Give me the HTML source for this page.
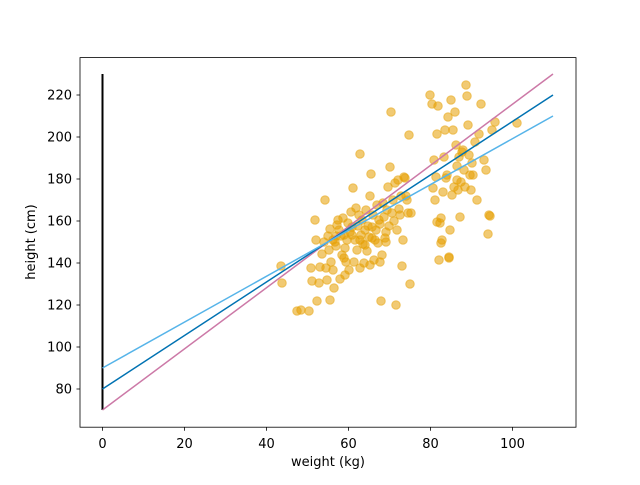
<!DOCTYPE html>
<html><head><style>
body{margin:0;background:#fff}
text{font-family:"DejaVu Sans","Liberation Sans",sans-serif;font-size:13px;fill:#000}
</style></head><body>
<svg width="640" height="480" viewBox="0 0 640 480" xmlns="http://www.w3.org/2000/svg">
<rect width="640" height="480" fill="#fff"/>
<g fill="#E69F00" fill-opacity="0.55" stroke="#E69F00" stroke-opacity="0.5" stroke-width="1">
<circle cx="281" cy="266" r="4.3"/><circle cx="282" cy="283" r="4.3"/><circle cx="297" cy="311" r="4.3"/><circle cx="301" cy="310" r="4.3"/><circle cx="309" cy="311" r="4.3"/><circle cx="311" cy="268" r="4.3"/><circle cx="312" cy="281" r="4.3"/><circle cx="315" cy="220" r="4.3"/><circle cx="316" cy="240" r="4.3"/><circle cx="317" cy="301" r="4.3"/><circle cx="319" cy="283" r="4.3"/><circle cx="320" cy="267" r="4.3"/><circle cx="322" cy="254" r="4.3"/><circle cx="324" cy="242" r="4.3"/><circle cx="325" cy="200" r="4.3"/><circle cx="326" cy="268" r="4.3"/><circle cx="327" cy="280" r="4.3"/><circle cx="328" cy="236" r="4.3"/><circle cx="329" cy="250" r="4.3"/><circle cx="330" cy="229" r="4.3"/><circle cx="331" cy="262" r="4.3"/><circle cx="333" cy="240" r="4.3"/><circle cx="333" cy="270" r="4.3"/><circle cx="334" cy="288" r="4.3"/><circle cx="335" cy="242" r="4.3"/><circle cx="336" cy="246" r="4.3"/><circle cx="337" cy="225" r="4.3"/><circle cx="338" cy="220" r="4.3"/><circle cx="339" cy="230" r="4.3"/><circle cx="340" cy="279" r="4.3"/><circle cx="341" cy="236" r="4.3"/><circle cx="342" cy="255" r="4.3"/><circle cx="343" cy="218" r="4.3"/><circle cx="344" cy="235" r="4.3"/><circle cx="345" cy="248" r="4.3"/><circle cx="346" cy="262" r="4.3"/><circle cx="347" cy="240" r="4.3"/><circle cx="348" cy="223" r="4.3"/><circle cx="349" cy="270" r="4.3"/><circle cx="350" cy="232" r="4.3"/><circle cx="351" cy="212" r="4.3"/><circle cx="352" cy="227" r="4.3"/><circle cx="353" cy="188" r="4.3"/><circle cx="354" cy="262" r="4.3"/><circle cx="355" cy="240" r="4.3"/><circle cx="356" cy="208" r="4.3"/><circle cx="357" cy="250" r="4.3"/><circle cx="358" cy="226" r="4.3"/><circle cx="359" cy="215" r="4.3"/><circle cx="360" cy="154" r="4.3"/><circle cx="361" cy="235" r="4.3"/><circle cx="362" cy="220" r="4.3"/><circle cx="363" cy="244" r="4.3"/><circle cx="364" cy="263" r="4.3"/><circle cx="365" cy="230" r="4.3"/><circle cx="366" cy="210" r="4.3"/><circle cx="367" cy="251" r="4.3"/><circle cx="368" cy="226" r="4.3"/><circle cx="369" cy="237" r="4.3"/><circle cx="370" cy="196" r="4.3"/><circle cx="371" cy="174" r="4.3"/><circle cx="372" cy="227" r="4.3"/><circle cx="373" cy="215" r="4.3"/><circle cx="374" cy="260" r="4.3"/><circle cx="375" cy="240" r="4.3"/><circle cx="376" cy="230" r="4.3"/><circle cx="377" cy="205" r="4.3"/><circle cx="378" cy="243" r="4.3"/><circle cx="379" cy="220" r="4.3"/><circle cx="380" cy="224" r="4.3"/><circle cx="381" cy="301" r="4.3"/><circle cx="382" cy="255" r="4.3"/><circle cx="383" cy="203" r="4.3"/><circle cx="384" cy="217" r="4.3"/><circle cx="385" cy="238" r="4.3"/><circle cx="386" cy="232" r="4.3"/><circle cx="387" cy="210" r="4.3"/><circle cx="388" cy="187" r="4.3"/><circle cx="389" cy="226" r="4.3"/><circle cx="390" cy="167" r="4.3"/><circle cx="391" cy="112" r="4.3"/><circle cx="392" cy="213" r="4.3"/><circle cx="393" cy="200" r="4.3"/><circle cx="394" cy="221" r="4.3"/><circle cx="395" cy="183" r="4.3"/><circle cx="396" cy="305" r="4.3"/><circle cx="397" cy="230" r="4.3"/><circle cx="398" cy="180" r="4.3"/><circle cx="399" cy="209" r="4.3"/><circle cx="400" cy="215" r="4.3"/><circle cx="401" cy="196" r="4.3"/><circle cx="402" cy="266" r="4.3"/><circle cx="403" cy="240" r="4.3"/><circle cx="404" cy="177" r="4.3"/><circle cx="405" cy="178" r="4.3"/><circle cx="406" cy="196" r="4.3"/><circle cx="407" cy="200" r="4.3"/><circle cx="408" cy="213" r="4.3"/><circle cx="409" cy="135" r="4.3"/><circle cx="410" cy="284" r="4.3"/><circle cx="411" cy="213" r="4.3"/><circle cx="430" cy="95" r="4.3"/><circle cx="432" cy="104" r="4.3"/><circle cx="433" cy="188" r="4.3"/><circle cx="434" cy="160" r="4.3"/><circle cx="435" cy="200" r="4.3"/><circle cx="436" cy="177" r="4.3"/><circle cx="437" cy="134" r="4.3"/><circle cx="438" cy="106" r="4.3"/><circle cx="439" cy="260" r="4.3"/><circle cx="440" cy="223" r="4.3"/><circle cx="441" cy="218" r="4.3"/><circle cx="442" cy="240" r="4.3"/><circle cx="443" cy="192" r="4.3"/><circle cx="444" cy="157" r="4.3"/><circle cx="445" cy="130" r="4.3"/><circle cx="446" cy="178" r="4.3"/><circle cx="447" cy="175" r="4.3"/><circle cx="448" cy="117" r="4.3"/><circle cx="449" cy="257" r="4.3"/><circle cx="450" cy="230" r="4.3"/><circle cx="451" cy="100" r="4.3"/><circle cx="452" cy="195" r="4.3"/><circle cx="453" cy="130" r="4.3"/><circle cx="454" cy="187" r="4.3"/><circle cx="455" cy="112" r="4.3"/><circle cx="456" cy="145" r="4.3"/><circle cx="457" cy="166" r="4.3"/><circle cx="458" cy="190" r="4.3"/><circle cx="459" cy="157" r="4.3"/><circle cx="460" cy="217" r="4.3"/><circle cx="461" cy="182" r="4.3"/><circle cx="462" cy="152" r="4.3"/><circle cx="463" cy="150" r="4.3"/><circle cx="464" cy="170" r="4.3"/><circle cx="465" cy="187" r="4.3"/><circle cx="466" cy="85" r="4.3"/><circle cx="467" cy="96" r="4.3"/><circle cx="468" cy="125" r="4.3"/><circle cx="469" cy="155" r="4.3"/><circle cx="470" cy="175" r="4.3"/><circle cx="471" cy="190" r="4.3"/><circle cx="472" cy="163" r="4.3"/><circle cx="473" cy="175" r="4.3"/><circle cx="475" cy="142" r="4.3"/><circle cx="477" cy="200" r="4.3"/><circle cx="479" cy="134" r="4.3"/><circle cx="481" cy="104" r="4.3"/><circle cx="484" cy="160" r="4.3"/><circle cx="486" cy="170" r="4.3"/><circle cx="488" cy="234" r="4.3"/><circle cx="489" cy="215" r="4.3"/><circle cx="490" cy="216" r="4.3"/><circle cx="492" cy="130" r="4.3"/><circle cx="495" cy="122" r="4.3"/><circle cx="517" cy="123" r="4.3"/><circle cx="380" cy="262" r="4.3"/><circle cx="360" cy="268" r="4.3"/><circle cx="345" cy="275" r="4.3"/><circle cx="330" cy="300" r="4.3"/><circle cx="370" cy="265" r="4.3"/><circle cx="352" cy="235" r="4.3"/><circle cx="365" cy="245" r="4.3"/><circle cx="336" cy="236" r="4.3"/><circle cx="372" cy="238" r="4.3"/><circle cx="386" cy="242" r="4.3"/><circle cx="344" cy="258" r="4.3"/><circle cx="360" cy="240" r="4.3"/><circle cx="437" cy="222" r="4.3"/><circle cx="441" cy="243" r="4.3"/><circle cx="449" cy="258" r="4.3"/><circle cx="457" cy="180" r="4.3"/>
</g>
<line x1="102.5" y1="74" x2="102.5" y2="410" stroke="#000" stroke-width="2"/>
<line x1="102.5" y1="410" x2="553" y2="74" stroke="#CC79A7" stroke-width="1.5"/>
<line x1="102.5" y1="389" x2="553" y2="95" stroke="#0072B2" stroke-width="1.5"/>
<line x1="102.5" y1="368" x2="553" y2="116" stroke="#56B4E9" stroke-width="1.5"/>
<rect x="80" y="57.6" width="496" height="369.6" fill="none" stroke="#000" stroke-width="0.8"/>
<g stroke="#000" stroke-width="0.8">
<line x1="102.5" y1="427.2" x2="102.5" y2="430.7"/><line x1="184.5" y1="427.2" x2="184.5" y2="430.7"/><line x1="266.5" y1="427.2" x2="266.5" y2="430.7"/><line x1="348.5" y1="427.2" x2="348.5" y2="430.7"/><line x1="430.5" y1="427.2" x2="430.5" y2="430.7"/><line x1="512.5" y1="427.2" x2="512.5" y2="430.7"/>
<line x1="76.5" y1="389" x2="80" y2="389"/><line x1="76.5" y1="347" x2="80" y2="347"/><line x1="76.5" y1="305" x2="80" y2="305"/><line x1="76.5" y1="263" x2="80" y2="263"/><line x1="76.5" y1="221" x2="80" y2="221"/><line x1="76.5" y1="179" x2="80" y2="179"/><line x1="76.5" y1="137" x2="80" y2="137"/><line x1="76.5" y1="95" x2="80" y2="95"/>
</g>
<g text-anchor="middle">
<text x="102.5" y="448">0</text><text x="184.5" y="448">20</text><text x="266.5" y="448">40</text><text x="348.5" y="448">60</text><text x="430.5" y="448">80</text><text x="512.5" y="448">100</text>
<text x="328" y="466">weight (kg)</text>
</g>
<g text-anchor="end">
<text x="72" y="393.5">80</text><text x="72" y="351.5">100</text><text x="72" y="309.5">120</text><text x="72" y="267.5">140</text><text x="72" y="225.5">160</text><text x="72" y="183.5">180</text><text x="72" y="141.5">200</text><text x="72" y="99.5">220</text>
</g>
<text x="35" y="242" text-anchor="middle" transform="rotate(-90 35 242)">height (cm)</text>
</svg>
</body></html>
